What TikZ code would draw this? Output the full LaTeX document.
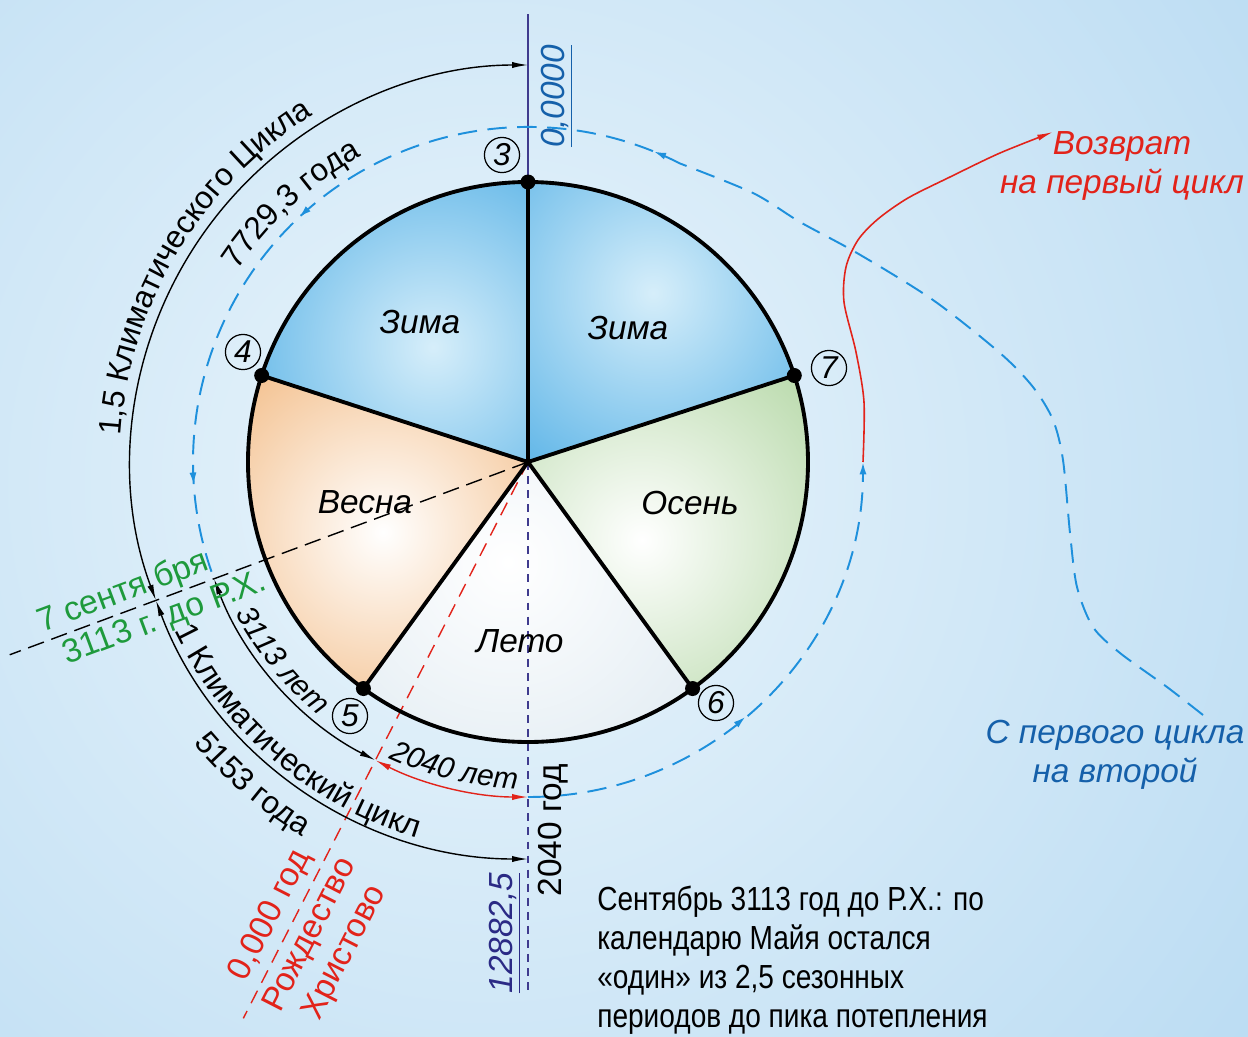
\documentclass[tikz,border=0pt]{standalone}
\usepackage{fontspec}
\setmainfont{Liberation Sans}
\newfontfamily\condfont[FakeStretch=0.84]{Liberation Sans}
\usepackage{tikz}
\usetikzlibrary{arrows.meta,decorations.text,decorations.markings}

\definecolor{bgin}{HTML}{EAF5FC}
\definecolor{bgout}{HTML}{B9DBF2}
\definecolor{winin}{HTML}{D6EEFA}
\definecolor{winter}{HTML}{62B7E8}
\definecolor{spring}{HTML}{F3BD88}
\definecolor{autumn}{HTML}{BDDCB0}
\definecolor{summer}{HTML}{DCE8F0}
\definecolor{axis}{HTML}{3F3B8E}
\definecolor{navy}{HTML}{2B2A85}
\definecolor{cycblue}{HTML}{1E90DC}
\definecolor{txtblue}{HTML}{1560AA}
\definecolor{mayared}{HTML}{E2231A}
\definecolor{mayagreen}{HTML}{1E9A3C}

\newcommand\arcfont{\fontsize{18}{20}\selectfont}
\newcommand\arcitfont{\fontsize{17}{20}\selectfont\itshape}

\begin{document}
\begin{tikzpicture}[x=0.02cm, y=0.02cm,
        lbl/.style = {font=\fontsize{19}{22}\selectfont},
        season/.style = {font=\fontsize{19}{20}\selectfont\itshape},
        num/.style = {circle, draw, line width=0.7pt, inner sep=0pt, minimum size=20pt, font=\fontsize{18}{18}\selectfont\itshape},
        dim/.style = {line width=0.8pt, {Latex[length=9pt, width=3.5pt]}-{Latex[length=9pt, width=3.5pt]}},
        cyc/.style = {cycblue, line width=1.1pt, dash pattern=on 11pt off 6pt},
        along/.style = {decorate, decoration={text along path, text align=center, text={#1}}}]

        \useasboundingbox (-528,-574) rectangle (720,462);
        \begin{scope}
            \clip (-528,-574) rectangle (720,462);
            \fill[bgout] (-528,-574) rectangle (720,462);
            \shade[inner color=bgin, outer color=bgout] (-40,-20) circle (1000);
        \end{scope}

        \coordinate (O) at (0,0);
        \foreach \a/\n in {90/3, 162/4, 234/5, 306/6, 18/7}
            \coordinate (v\n) at (\a:280);

        % seasons
        \foreach \a/\sa/\ea/\ci/\co/\sx/\sy/\sr in {
                3/90/162/winin/winter/-95/115/210,
                7/18/90/winin/winter/125/169/210,
                4/162/234/white/spring/-145/-70/220,
                5/234/306/white/summer/-20/-100/300,
                6/306/378/white/autumn/114/-78/220}
        {
            \begin{scope}
                \clip (O) -- (v\a) arc[start angle=\sa, end angle=\ea, radius=280] -- cycle;
                \fill[\co] (-300,-300) rectangle (300,300);
                \shade[inner color=\ci, outer color=\co] (\sx,\sy) circle (\sr);
            \end{scope}
        }

        \coordinate (sept) at (200.4:553);
        \coordinate (xmas) at (242.9:625);
        \coordinate (top) at (0,448);
        \coordinate (bot) at (0,-531);
        \draw[dash pattern=on 9.5pt off 4.5pt, line width=0.8pt] (O) -- (sept);
        \draw[mayared, dash pattern=on 8pt off 5pt, line width=0.8pt] (O) -- (xmas);
        \draw[axis, dash pattern=on 4.5pt off 3.5pt, line width=1pt] (O) -- (bot);
        \draw[axis, line width=0.9pt] (v3) -- (top);

        \draw[line width=2.2pt] (O) circle (280);
        \foreach \n in {3,...,7} {
            \draw[line width=2.2pt] (O) -- (v\n);
            \fill (v\n) circle (7.5);
        }

        \node[season] (win1) at (-108,140) {Зима};
        \node[season] (win2) at (100,134) {Зима};
        \node[season] (spr) at (-163,-40) {Весна};
        \node[season] (aut) at (162,-41) {Осень};
        \node[season] (sum) at (-8,-179) {Лето};

        \node[num] (n3) at (-26,307) {3};
        \node[num] (n4) at (-285,110) {4};
        \node[num] (n5) at (-178,-254) {5};
        \node[num] (n6) at (188,-241) {6};
        \node[num] (n7) at (301,94) {7};

        % dimension arcs
        \coordinate (s397) at (200.4:397);
        \coordinate (s335) at (200.4:335);
        \coordinate (x335) at (242.9:335);
        \coordinate (b270) at (270:335);
        \coordinate (b0) at (0:335);
        \coordinate (j63) at (63:335);
        \draw[dim] (s397) arc[start angle=200.4, end angle=90, radius=397];
        \draw[dim] (s397) arc[start angle=200.4, end angle=270, radius=397];
        \draw[dim] (s335) arc[start angle=200.4, end angle=242.9, radius=335];
        \draw[dim, mayared] (x335) arc[start angle=242.9, end angle=270, radius=335];

        \path[along={|\arcfont|1,5 Климатического Цикла}] (190:408) arc[start angle=190, end angle=108, radius=408];
        \path[along={|\arcfont|7729,3 года}] (165:348) arc[start angle=165, end angle=100, radius=348];
        \path[along={|\arcfont|1 Климатический цикл}] (195:392) arc[start angle=195, end angle=264, radius=392];
        \path[along={|\arcfont|5153 года}] (205:437) arc[start angle=205, end angle=254, radius=437];
        \path[along={|\arcitfont|3113 лет}] (198:329) arc[start angle=198, end angle=240, radius=329];
        \path[along={|\arcitfont|2040 лет}] (238:327) arc[start angle=238, end angle=275, radius=327];

        % cycles
        \coordinate (from2) at (675,-253);
        \coordinate (ret) at (525,330);
        \draw[cyc, -{Latex[length=7pt, width=4pt]},
              postaction={decorate, decoration={markings, mark=at position 0.45 with {\arrow{Latex[length=7pt, width=4pt]}}}}]
            (b270) arc[start angle=-90, end angle=0, radius=335];
        \draw[cyc] plot[smooth] coordinates {(from2) (639,-225) (592,-191) (565,-165) (549,-125) (542,-71)
            (535,2) (525,42) (505,75) (472,109) (405,162) (329,209) (272,240) (225,269) (j63)};
        \draw[cyc, postaction={decorate, decoration={markings,
                mark=at position 0.036 with {\arrow{Latex[length=7pt, width=4pt]}},
                mark=at position 0.51 with {\arrow{Latex[length=7pt, width=4pt]}},
                mark=at position 0.88 with {\arrow{Latex[length=7pt, width=4pt]}}}}]
            (j63) arc[start angle=63, end angle=200.4, radius=335];
        \draw[mayared, line width=0.9pt, -{Latex[length=9pt, width=3.5pt]}] plot[smooth] coordinates {(b0) (336,60)
            (328,110) (316,160) (318,195) (330,222) (350,243) (380,264) (422,285) (472,309) (ret)};

        \node[lbl, font=\fontsize{19}{22}\selectfont\itshape, mayared, align=center] (back) at (594,296) {Возврат\\на первый цикл};
        \node[lbl, font=\fontsize{19}{22}\selectfont\itshape, txtblue, align=center] (next) at (587,-293) {С первого цикла\\на второй};

        \node[lbl, rotate=90, txtblue, font=\fontsize{19}{22}\selectfont\itshape] (zero) at (29,366) {\underline{0,0000}};
        \node[lbl, rotate=90, navy, font=\fontsize{19}{22}\selectfont\itshape] (full) at (-23,-471) {\underline{12882,5}};
        \node[lbl, rotate=90] (y2040) at (25,-368) {2040 год};

        \node[lbl, mayagreen, rotate=20.4, anchor=south, inner sep=1.5pt] (sep1) at (200.4:425) {7 сентя бря};
        \node[lbl, mayagreen, rotate=20.4, anchor=north, inner sep=3pt] (sep2) at (200.4:395) {3113 г. до Р.Х.};
        \node[lbl, mayared, rotate=62.9, anchor=south, inner sep=4pt] (xm1) at (242.9:521) {0,000 год};
        \node[lbl, mayared, rotate=62.9, anchor=north, inner sep=4pt, align=center] (xm2) at (242.9:520) {Рождество\\Христово};

        \node[anchor=north west, align=left, inner sep=0pt, font=\condfont\fontsize{19}{22.2}\selectfont] (note) at (69,-424)
            {Сентябрь 3113 год до Р.Х.: по\\календарю Майя остался\\«один» из 2,5 сезонных\\периодов до пика потепления};
\end{tikzpicture}
\end{document}
